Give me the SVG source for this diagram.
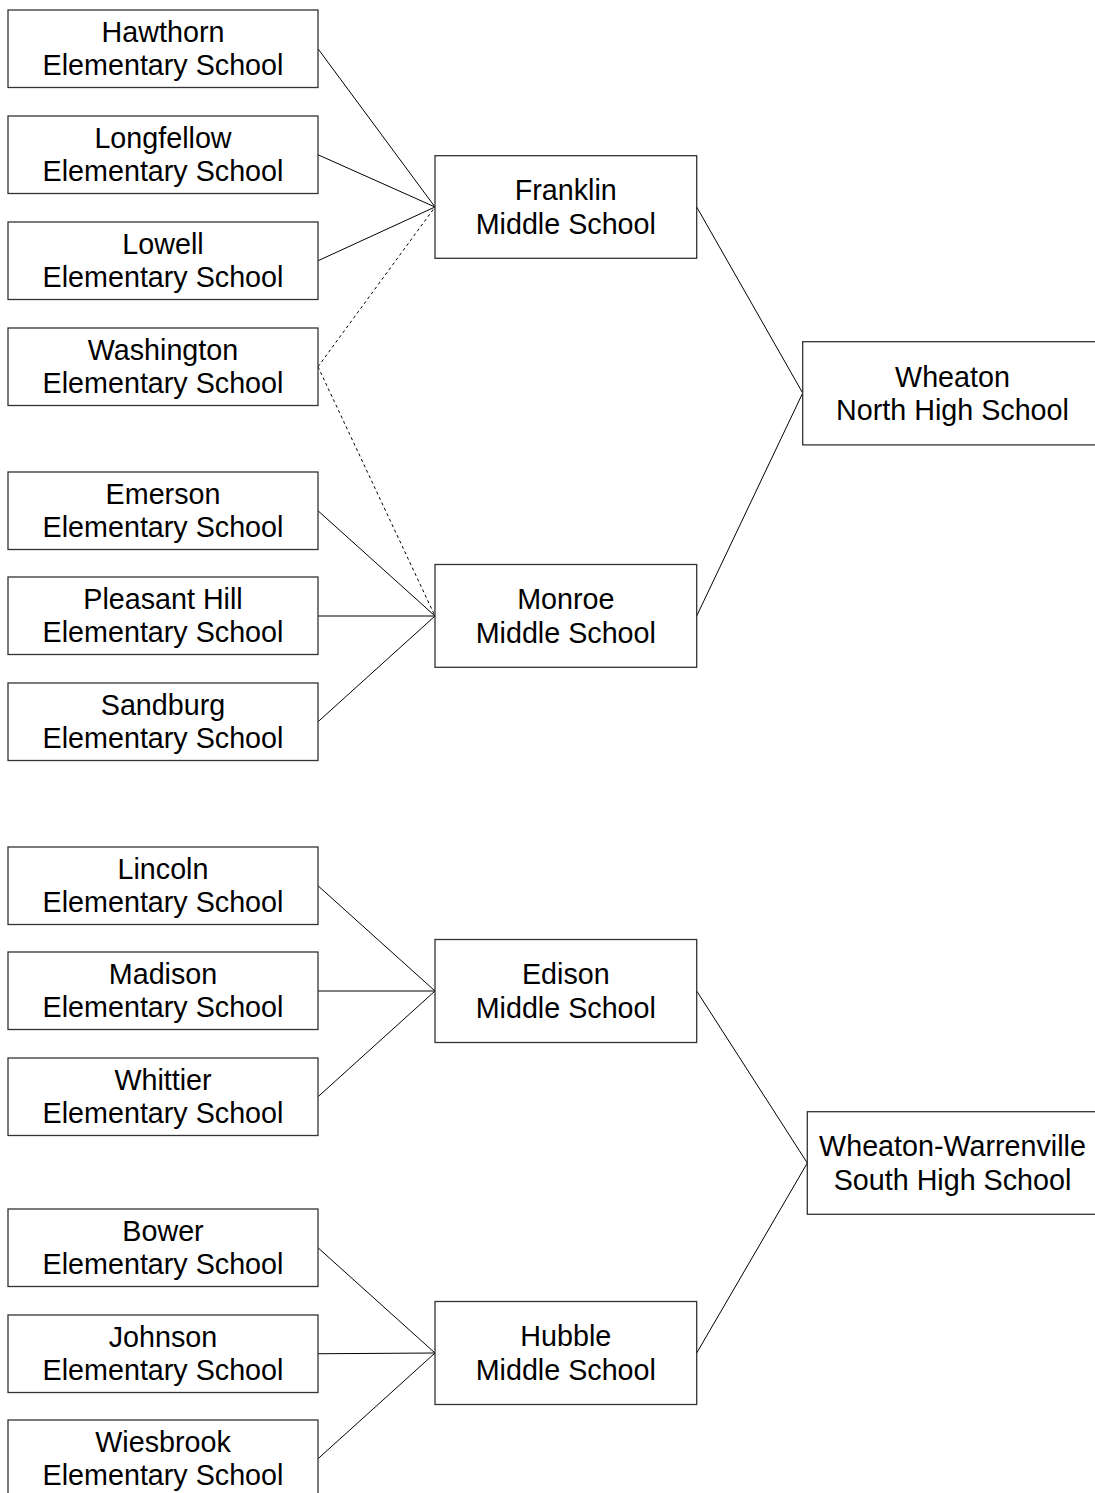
<svg xmlns="http://www.w3.org/2000/svg" width="1095" height="1493" viewBox="0 0 1095 1493">
<style>
rect.box{fill:#fff;stroke:#333;stroke-width:1.3}
text{font-family:"Liberation Sans",Arial,sans-serif;font-size:28.7px;fill:#000;text-anchor:middle}
.c line{stroke:#000;stroke-width:1}
.c line.d{stroke-dasharray:3,3}
</style>
<rect width="1095" height="1493" fill="#fff"/>
<g class="c" id="connectors">
<line x1="318" y1="48.75" x2="435" y2="207"/>
<line x1="318" y1="154.75" x2="435" y2="207"/>
<line x1="318" y1="260.75" x2="435" y2="207"/>
<line class="d" x1="318" y1="366.75" x2="435" y2="207"/>
<line class="d" x1="318" y1="366.75" x2="435" y2="616"/>
<line x1="318" y1="510.75" x2="435" y2="616"/>
<line x1="318" y1="616" x2="435" y2="616"/>
<line x1="318" y1="721.75" x2="435" y2="616"/>
<line x1="318" y1="885.75" x2="435" y2="991"/>
<line x1="318" y1="991" x2="435" y2="991"/>
<line x1="318" y1="1096.75" x2="435" y2="991"/>
<line x1="318" y1="1247.75" x2="435" y2="1353"/>
<line x1="318" y1="1353.75" x2="435" y2="1353"/>
<line x1="318" y1="1458.75" x2="435" y2="1353"/>
<line x1="696.7" y1="207" x2="802.7" y2="393"/>
<line x1="696.7" y1="616" x2="802.7" y2="393"/>
<line x1="696.7" y1="991" x2="807.3" y2="1163"/>
<line x1="696.7" y1="1353" x2="807.3" y2="1163"/>
</g>
<g id="hawthorn"><rect class="box" x="8" y="10" width="310" height="77.5"/><text x="163" y="42">Hawthorn</text><text x="163" y="75.3">Elementary School</text></g>
<g id="longfellow"><rect class="box" x="8" y="116" width="310" height="77.5"/><text x="163" y="148">Longfellow</text><text x="163" y="181.3">Elementary School</text></g>
<g id="lowell"><rect class="box" x="8" y="222" width="310" height="77.5"/><text x="163" y="254">Lowell</text><text x="163" y="287.3">Elementary School</text></g>
<g id="washington"><rect class="box" x="8" y="328" width="310" height="77.5"/><text x="163" y="360">Washington</text><text x="163" y="393.3">Elementary School</text></g>
<g id="emerson"><rect class="box" x="8" y="472" width="310" height="77.5"/><text x="163" y="504">Emerson</text><text x="163" y="537.3">Elementary School</text></g>
<g id="pleasanthill"><rect class="box" x="8" y="577" width="310" height="77.5"/><text x="163" y="609">Pleasant Hill</text><text x="163" y="642.3">Elementary School</text></g>
<g id="sandburg"><rect class="box" x="8" y="683" width="310" height="77.5"/><text x="163" y="715">Sandburg</text><text x="163" y="748.3">Elementary School</text></g>
<g id="lincoln"><rect class="box" x="8" y="847" width="310" height="77.5"/><text x="163" y="879">Lincoln</text><text x="163" y="912.3">Elementary School</text></g>
<g id="madison"><rect class="box" x="8" y="952" width="310" height="77.5"/><text x="163" y="984">Madison</text><text x="163" y="1017.3">Elementary School</text></g>
<g id="whittier"><rect class="box" x="8" y="1058" width="310" height="77.5"/><text x="163" y="1090">Whittier</text><text x="163" y="1123.3">Elementary School</text></g>
<g id="bower"><rect class="box" x="8" y="1209" width="310" height="77.5"/><text x="163" y="1241">Bower</text><text x="163" y="1274.3">Elementary School</text></g>
<g id="johnson"><rect class="box" x="8" y="1315" width="310" height="77.5"/><text x="163" y="1347">Johnson</text><text x="163" y="1380.3">Elementary School</text></g>
<g id="wiesbrook"><rect class="box" x="8" y="1420" width="310" height="77.5"/><text x="163" y="1452">Wiesbrook</text><text x="163" y="1485.3">Elementary School</text></g>
<g id="franklin"><rect class="box" x="435" y="155.7" width="261.7" height="102.6"/><text x="565.8" y="200.2">Franklin</text><text x="565.8" y="233.5">Middle School</text></g>
<g id="monroe"><rect class="box" x="435" y="564.5" width="261.7" height="102.8"/><text x="565.8" y="609.2">Monroe</text><text x="565.8" y="642.5">Middle School</text></g>
<g id="edison"><rect class="box" x="435" y="939.5" width="261.7" height="103"/><text x="565.8" y="984.2">Edison</text><text x="565.8" y="1017.5">Middle School</text></g>
<g id="hubble"><rect class="box" x="435" y="1301.5" width="261.7" height="103"/><text x="565.8" y="1346.2">Hubble</text><text x="565.8" y="1379.5">Middle School</text></g>
<g id="wheatonnorth"><rect class="box" x="802.7" y="341.7" width="300" height="103.2"/><text x="952.5" y="386.5">Wheaton</text><text x="952.5" y="419.8">North High School</text></g>
<g id="wws"><rect class="box" x="807.3" y="1111.7" width="300" height="102.6"/><text x="952.5" y="1156.2">Wheaton-Warrenville</text><text x="952.5" y="1189.5">South High School</text></g>
</svg>
